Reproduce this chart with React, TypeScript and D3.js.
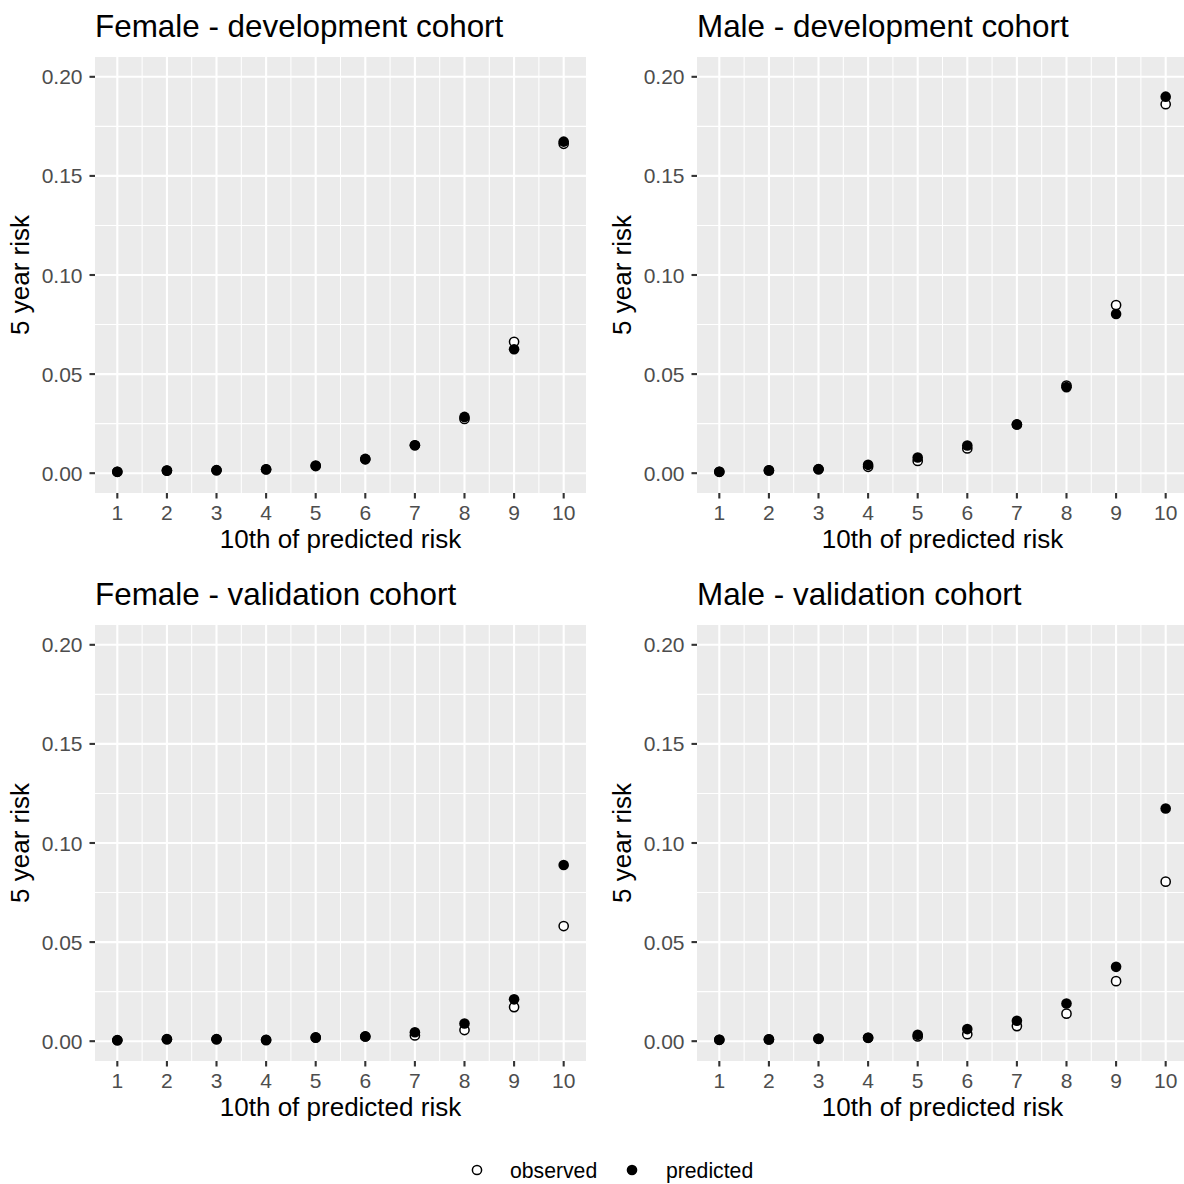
import React from "react";
import * as d3 from "d3";

const deciles = [1, 2, 3, 4, 5, 6, 7, 8, 9, 10];
const yTicks = [0, 0.05, 0.1, 0.15, 0.2];
const yMinor = [0.025, 0.075, 0.125, 0.175];
const xMinor = [1.5, 2.5, 3.5, 4.5, 5.5, 6.5, 7.5, 8.5, 9.5];

const femaleDevObserved = [0.0007, 0.0013, 0.0015, 0.0019, 0.0036, 0.007, 0.0141, 0.0274, 0.0663, 0.1662];
const femaleDevPredicted = [0.0007, 0.0013, 0.0015, 0.002, 0.0039, 0.0072, 0.0141, 0.0284, 0.0625, 0.1673];
const maleDevObserved = [0.0007, 0.0014, 0.002, 0.0032, 0.0062, 0.0125, 0.0246, 0.0442, 0.0848, 0.1862];
const maleDevPredicted = [0.0007, 0.0014, 0.002, 0.0042, 0.0079, 0.014, 0.0246, 0.0434, 0.0803, 0.19];
const femaleValObserved = [0.0005, 0.001, 0.001, 0.0005, 0.0018, 0.0024, 0.0029, 0.0056, 0.0172, 0.0581];
const femaleValPredicted = [0.0005, 0.001, 0.001, 0.0007, 0.0019, 0.0024, 0.0045, 0.0089, 0.0211, 0.0889];
const maleValObserved = [0.0007, 0.0009, 0.0012, 0.0017, 0.0024, 0.0035, 0.0076, 0.0139, 0.0303, 0.0805];
const maleValPredicted = [0.0007, 0.0009, 0.0012, 0.0017, 0.0032, 0.0061, 0.0103, 0.019, 0.0375, 0.1174];

const panelsDef = [
  { title: "Female - development cohort", observed: femaleDevObserved, predicted: femaleDevPredicted, left: 95, top: 57 },
  { title: "Male - development cohort", observed: maleDevObserved, predicted: maleDevPredicted, left: 697, top: 57 },
  { title: "Female - validation cohort", observed: femaleValObserved, predicted: femaleValPredicted, left: 95, top: 625 },
  { title: "Male - validation cohort", observed: maleValObserved, predicted: maleValPredicted, left: 697, top: 625 },
];

const FONT = "'Liberation Sans', Arial, Helvetica, sans-serif";
const PW = 491;
const PH = 436;
const R = 5.3;

function Panel({ p }: { p: (typeof panelsDef)[number] }) {
  const x = d3.scaleLinear().domain([0.55, 10.45]).range([p.left, p.left + PW]);
  const y = d3.scaleLinear().domain([-0.01, 0.21]).range([p.top + PH, p.top]);
  const bottom = p.top + PH;
  return (
    <g>
      <text x={p.left} y={p.top - 20} fontSize={31.4} fontFamily={FONT} fill="#000">
        {p.title}
      </text>
      <rect x={p.left} y={p.top} width={PW} height={PH} fill="#EBEBEB" />
      {yMinor.map((v) => (
        <line key={"ym" + v} x1={p.left} x2={p.left + PW} y1={y(v)} y2={y(v)} stroke="#fff" strokeWidth={1.05} />
      ))}
      {xMinor.map((v) => (
        <line key={"xm" + v} x1={x(v)} x2={x(v)} y1={p.top} y2={bottom} stroke="#fff" strokeWidth={1.05} />
      ))}
      {yTicks.map((v) => (
        <line key={"yM" + v} x1={p.left} x2={p.left + PW} y1={y(v)} y2={y(v)} stroke="#fff" strokeWidth={2.1} />
      ))}
      {deciles.map((v) => (
        <line key={"xM" + v} x1={x(v)} x2={x(v)} y1={p.top} y2={bottom} stroke="#fff" strokeWidth={2.1} />
      ))}
      {deciles.map((v, i) => (
        <circle key={"o" + v} cx={x(v)} cy={y(p.observed[i])} r={R - 0.7} fill="#fff" stroke="#000" strokeWidth={1.5} />
      ))}
      {deciles.map((v, i) => (
        <circle key={"p" + v} cx={x(v)} cy={y(p.predicted[i])} r={R} fill="#000" />
      ))}
      {yTicks.map((v) => (
        <g key={"yt" + v}>
          <line x1={p.left - 5.5} x2={p.left} y1={y(v)} y2={y(v)} stroke="#333" strokeWidth={2.1} />
          <text x={p.left - 12.5} y={y(v)} dy="0.36em" textAnchor="end" fontSize={21} fontFamily={FONT} fill="#4D4D4D">
            {d3.format(".2f")(v)}
          </text>
        </g>
      ))}
      {deciles.map((v) => (
        <g key={"xt" + v}>
          <line x1={x(v)} x2={x(v)} y1={bottom} y2={bottom + 5.5} stroke="#333" strokeWidth={2.1} />
          <text x={x(v)} y={bottom + 27} textAnchor="middle" fontSize={21} fontFamily={FONT} fill="#4D4D4D">
            {v}
          </text>
        </g>
      ))}
      <text x={p.left + PW / 2} y={bottom + 55} textAnchor="middle" fontSize={26} fontFamily={FONT} fill="#000">
        10th of predicted risk
      </text>
      <text
        transform={`translate(${p.left - 66},${p.top + PH / 2}) rotate(-90)`}
        textAnchor="middle"
        fontSize={26}
        fontFamily={FONT}
        fill="#000"
      >
        5 year risk
      </text>
    </g>
  );
}

export default function App() {
  return (
    <svg width={1184} height={1184} style={{ position: "absolute", left: 0, top: 0, background: "#fff" }}>
      <rect x={0} y={0} width={1184} height={1184} fill="#fff" />
      {panelsDef.map((p) => (
        <Panel key={p.title} p={p} />
      ))}
      <g>
        <circle cx={477} cy={1170} r={R - 0.7} fill="#fff" stroke="#000" strokeWidth={1.5} />
        <text x={510} y={1170} dy="0.36em" fontSize={21.2} fontFamily={FONT} fill="#000">
          observed
        </text>
        <circle cx={632} cy={1170} r={R} fill="#000" />
        <text x={666} y={1170} dy="0.36em" fontSize={21.2} fontFamily={FONT} fill="#000">
          predicted
        </text>
      </g>
    </svg>
  );
}
